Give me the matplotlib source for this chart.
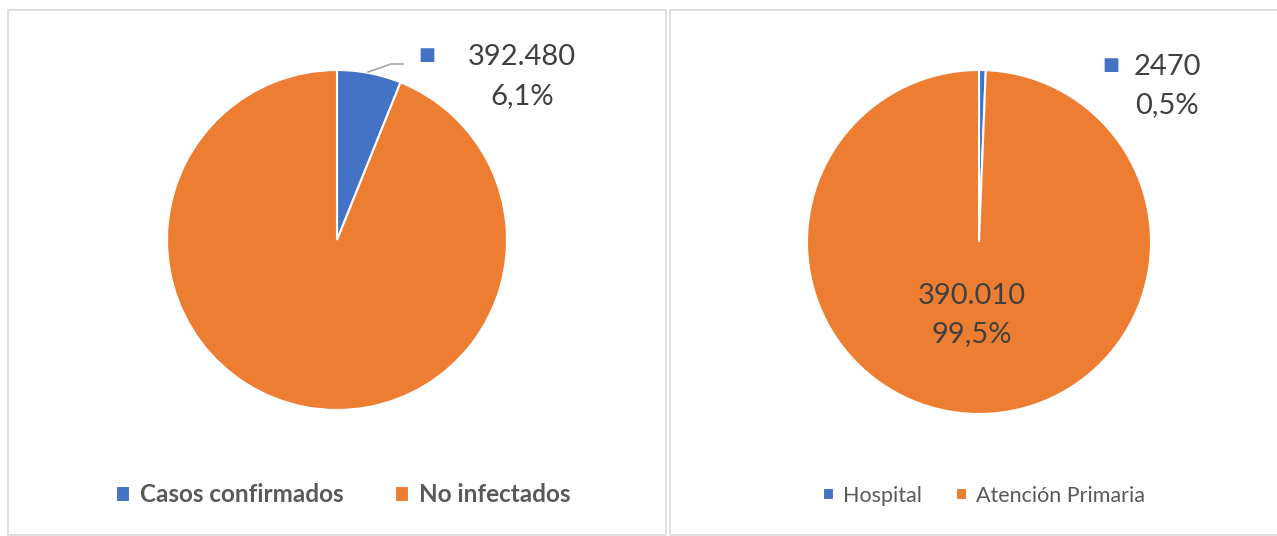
import matplotlib.pyplot as plt
from matplotlib.patches import Rectangle
from matplotlib.lines import Line2D

W, H = 1277, 536

# data
left_labels = ["Casos confirmados", "No infectados"]
left_values = [392480, 6041520]
left_value_text = "392.480"
left_pct_text = "6,1%"

right_labels = ["Hospital", "Atención Primaria"]
right_values = [2470, 390010]
right_value_text = ["2470", "390.010"]
right_pct_text = ["0,5%", "99,5%"]

colors = ["#4472C4", "#ED7D31"]
txt_dark = "#404040"
txt_legend = "#595959"
FONT = ["Lato", "DejaVu Sans"]

plt.rcParams['font.family'] = FONT


def fx(x):
    return x / W


def fy(y):
    return 1 - y / H


fig = plt.figure(figsize=(W / 100, H / 100), dpi=100)
fig.patch.set_facecolor("white")

# panel frames
for x0, x1 in [(8, 666), (670, 1290)]:
    fig.add_artist(Rectangle((fx(x0), fy(535)), fx(x1 - x0), (535 - 10) / H,
                             transform=fig.transFigure, fill=False,
                             edgecolor="#D9D9D9", linewidth=1.2))


def pie_axes(cx, cy, r):
    ax = fig.add_axes([fx(cx - r), fy(cy + r), 2 * r / W, 2 * r / H])
    ax.set_xlim(-1, 1)
    ax.set_ylim(-1, 1)
    ax.set_aspect("equal")
    ax.axis("off")
    return ax


# left pie
ax1 = pie_axes(337, 240, 170)
w1, _ = ax1.pie(left_values, colors=colors, startangle=90, counterclock=False,
                radius=1, wedgeprops=dict(edgecolor="white", linewidth=1.5))
ax1.set_xlim(-1, 1)
ax1.set_ylim(-1, 1)

fig.add_artist(Line2D([fx(368), fx(391), fx(403)], [fy(72), fy(64), fy(64)],
                      transform=fig.transFigure, color="#A6A6A6", linewidth=1.2))
fig.text(fx(427), fy(55), "■", family="DejaVu Sans", color=colors[0],
         fontsize=13, ha="center", va="center")
fig.text(fx(522), fy(57), left_value_text, color=txt_dark, fontsize=21,
         ha="center", va="center")
fig.text(fx(522), fy(96), left_pct_text, color=txt_dark, fontsize=21,
         ha="center", va="center")

fig.legend(w1, left_labels, loc="center", bbox_to_anchor=(fx(343), fy(495)),
           ncol=2, frameon=False, handlelength=0.6, handleheight=0.6,
           handletextpad=0.4, columnspacing=2.1,
           prop=dict(family=FONT, weight="bold", size=17.5),
           labelcolor=txt_legend)

# right pie
ax2 = pie_axes(979, 242, 172)
w2, _ = ax2.pie(right_values, colors=colors, startangle=90, counterclock=False,
                radius=1, wedgeprops=dict(edgecolor="white", linewidth=1.5))
ax2.set_xlim(-1, 1)
ax2.set_ylim(-1, 1)

fig.text(fx(1111), fy(65), "■", family="DejaVu Sans", color=colors[0],
         fontsize=13, ha="center", va="center")
fig.text(fx(1167), fy(67), right_value_text[0], color=txt_dark, fontsize=21,
         ha="center", va="center")
fig.text(fx(1167), fy(105), right_pct_text[0], color=txt_dark, fontsize=21,
         ha="center", va="center")
fig.text(fx(972), fy(296), right_value_text[1], color=txt_dark, fontsize=21,
         ha="center", va="center")
fig.text(fx(972), fy(334), right_pct_text[1], color=txt_dark, fontsize=21,
         ha="center", va="center")

fig.legend(w2, right_labels, loc="center", bbox_to_anchor=(fx(984), fy(496)),
           ncol=2, frameon=False, handlelength=0.5, handleheight=0.5,
           handletextpad=0.4, columnspacing=1.6,
           prop=dict(family=FONT, size=15.5), labelcolor=txt_legend)

fig.savefig("out.png", dpi=100)
